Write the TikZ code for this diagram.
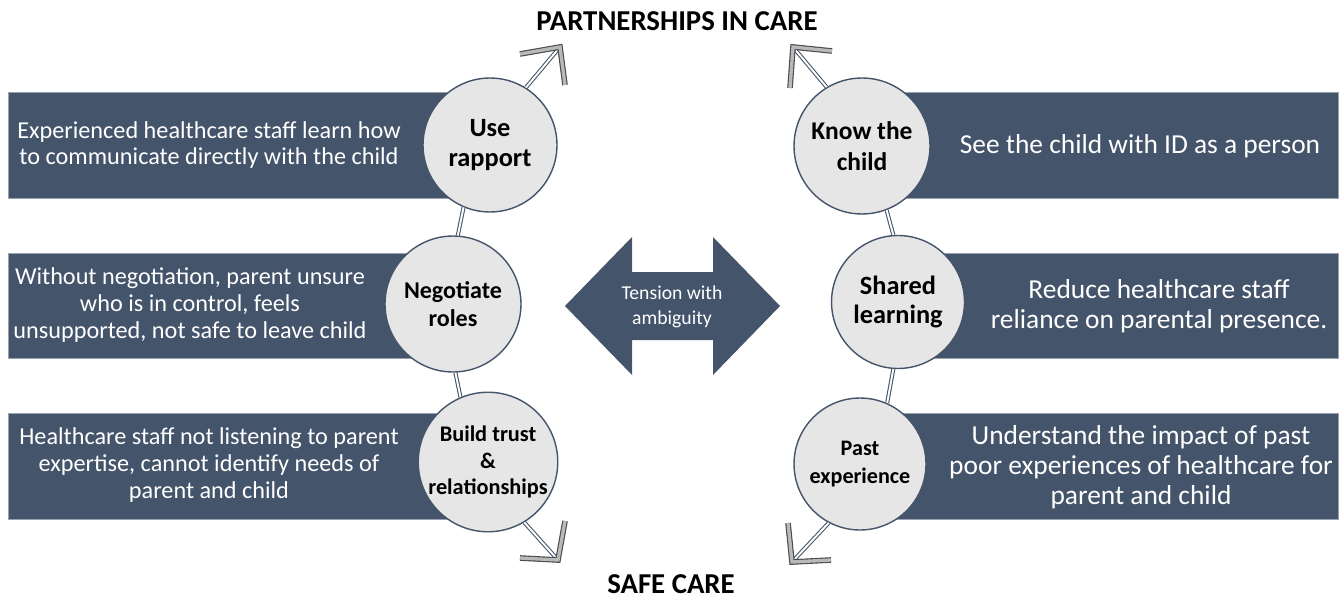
\documentclass[tikz,border=0pt]{standalone}
\usepackage{fontspec}
\setmainfont{Carlito}
\definecolor{slate}{HTML}{44546A}
\definecolor{disc}{HTML}{E7E6E6}
\tikzset{
  note/.style={fill=slate, draw=slate!55, line width=0.4pt},
  hub/.style={circle, fill=disc, draw=slate, line width=0.8pt, inner sep=0pt, align=center},
  link/.style={draw=slate, double=white, double distance=1.1pt, line width=0.6pt},
  barb/.style={draw=black!70, double=gray!55, double distance=1.9pt, line width=0.65pt, line join=miter},
  sayL/.style={text=white, align=center, font=\fontsize{13.8}{15.3}\selectfont},
  sayR/.style={text=white, align=center, font=\fontsize{15.6}{17}\selectfont},
  head/.style={inner sep=0pt, font=\bfseries\fontsize{16.4}{18}\selectfont}
}
\begin{document}
\begin{tikzpicture}[x=0.02cm, y=-0.02cm]
  \useasboundingbox (0,0) rectangle (1344,598);
  % boxes
  \draw[note] (8,92) rectangle (490,198);
  \draw[note] (8,253) rectangle (453,358);
  \draw[note] (8,413) rectangle (488,519);
  \draw[note] (862,92) rectangle (1338,198);
  \draw[note] (898,253) rectangle (1338,358);
  \draw[note] (860,413) rectangle (1338,519);
  \node[sayL] (say1) at (209,145) {Experienced healthcare staff learn how\\to communicate directly with the child};
  \node[sayL] (say2) at (190,305) {Without negotiation, parent unsure\\who is in control, feels\\unsupported, not safe to leave child};
  \node[sayL] (say3) at (209,465) {Healthcare staff not listening to parent\\expertise, cannot identify needs of\\parent and child};
  \node[sayR] (say4) at (1140,146) {See the child with ID as a person};
  \node[sayR] (say5) at (1159,306) {Reduce healthcare staff\\reliance on parental presence.};
  \node[sayR] (say6) at (1141,467) {Understand the impact of past\\poor experiences of healthcare for\\parent and child};
  % circles
  \node[hub, minimum size=2.68cm, font=\bfseries\fontsize{15}{17}\selectfont] (rapport) at (490,145) {Use\\rapport};
  \node[hub, minimum size=2.72cm, font=\bfseries\fontsize{13.7}{15.9}\selectfont] (negot) at (453,304) {Negotiate\\roles};
  \node[hub, minimum size=2.6cm, font=\bfseries\fontsize{12.7}{15.3}\selectfont] (trust) at (488,462) {Build trust\\\&\\relationships};
  \node[hub, minimum size=2.72cm, font=\bfseries\fontsize{14.5}{17.6}\selectfont] (know) at (862,146) {Know the\\child};
  \node[hub, minimum size=2.66cm, font=\bfseries\fontsize{15}{17}\selectfont] (shared) at (898,302) {Shared\\learning};
  \node[hub, minimum size=2.64cm, font=\bfseries\fontsize{12.6}{15.9}\selectfont] (past) at (860,464) {Past\\experience};
  % links
  \draw[link] (rapport.-113) -- (negot.86);
  \draw[link] (negot.-88) -- (trust.113);
  \draw[link] (know.-69) -- (shared.94);
  \draw[link] (shared.-94) -- (past.66);
  % arrow ends
  \coordinate (tipA) at (560,47);
  \coordinate (tipB) at (793,47);
  \coordinate (tipC) at (558,560);
  \coordinate (tipD) at (792,562);
  \draw[link] (rapport.58) -- (tipA);
  \draw[link] (know.121) -- (tipB);
  \draw[link] (trust.-59) -- (tipC);
  \draw[link] (past.-118) -- (tipD);
  \draw[barb] ([shift={(-40,7)}]tipA) -- (tipA) -- ([shift={(5,38)}]tipA);
  \draw[barb] ([shift={(39,4)}]tipB) -- (tipB) -- ([shift={(-3,41)}]tipB);
  \draw[barb] ([shift={(7,-39)}]tipC) -- (tipC) -- ([shift={(-38,-2)}]tipC);
  \draw[barb] ([shift={(-4,-39)}]tipD) -- (tipD) -- ([shift={(39,-2)}]tipD);
  % middle arrow
  \fill[slate] (565,306) -- (632,237) -- (632,272) -- (713,272) -- (713,237) -- (780,306)
    -- (713,375) -- (713,340) -- (632,340) -- (632,375) -- cycle;
  \node[text=white, align=center, font=\fontsize{11.2}{14}\selectfont] (tension) at (672,307) {Tension with\\ambiguity};
  % titles
  \node[head] (partner) at (677,21) {PARTNERSHIPS IN CARE};
  \node[head] (safe) at (671,584) {SAFE CARE};
\end{tikzpicture}
\end{document}
